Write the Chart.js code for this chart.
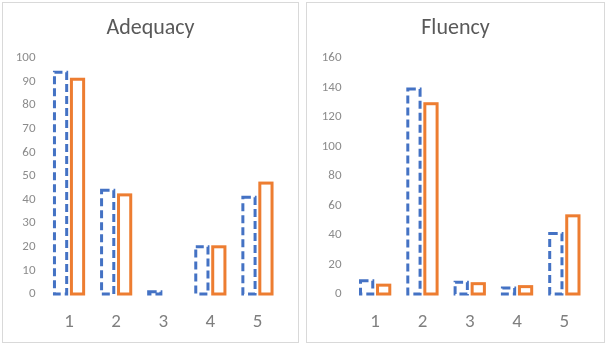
<!DOCTYPE html>
<html><head><meta charset="utf-8">
<script src="https://cdn.jsdelivr.net/npm/chart.js@4"></script>
<style>
html,body{margin:0;padding:0;background:#fff;width:606px;height:344px;overflow:hidden;font-family:Calibri,"Liberation Sans",Carlito,sans-serif}
.panel{position:absolute;border:1px solid #d9d9d9;background:#fff}
canvas{display:block}
</style></head><body>
<div class="panel" style="left:2px;top:2px;width:295px;height:339px"><canvas id="c1" width="295" height="339"></canvas></div>
<div class="panel" style="left:306px;top:2px;width:297px;height:339px"><canvas id="c2" width="297" height="339"></canvas></div>
<script>
const categories = ['1','2','3','4','5'];
const adequacyBlue = [94, 44, 1, 20, 41];
const adequacyOrange = [91, 42, 0, 20, 47];
const fluencyBlue = [9, 139, 8, 4, 41];
const fluencyOrange = [6, 129, 7, 5, 53];
const titles = ['Adequacy', 'Fluency'];
const yMaxes = [100, 160];
const ySteps = [10, 20];

const BLUE = '#4472c4', ORANGE = '#ed7d31';
const FONT = 'Calibri, Carlito, "Liberation Sans", sans-serif';

const outlinePlugin = {
  id: 'outlineBars',
  afterDatasetsDraw(chart) {
    const ctx = chart.ctx;
    chart.data.datasets.forEach((ds, i) => {
      const meta = chart.getDatasetMeta(i);
      ctx.save();
      ctx.lineWidth = 3;
      ctx.strokeStyle = ds.outline;
      ctx.setLineDash(ds.dash);
      ctx.lineJoin = 'miter';
      meta.data.forEach((el, j) => {
        if (!ds.data[j]) return;
        const p = el.getProps(['x','y','base','width'], true);
        ctx.strokeRect(p.x - p.width/2, p.y, p.width, p.base - p.y);
      });
      ctx.restore();
    });
  }
};

function makeChart(id, blue, orange, title, ymax, step, yw, right) {
  new Chart(document.getElementById(id), {
    type: 'bar',
    data: {
      labels: categories,
      datasets: [
        {data: blue, outline: BLUE, dash: [8,4], backgroundColor: 'rgba(0,0,0,0)', borderWidth: 0},
        {data: orange, outline: ORANGE, dash: [], backgroundColor: 'rgba(0,0,0,0)', borderWidth: 0}
      ]
    },
    options: {
      responsive: false,
      animation: false,
      events: [],
      categoryPercentage: 0.72,
      barPercentage: 0.72,
      layout: {padding: {top: 4, left: 0, right: 0, bottom: 0}},
      plugins: {
        legend: {display: false},
        tooltip: {enabled: false},
        title: {display: true, text: title, color: '#595959',
          font: {family: FONT, size: 22, weight: 'normal'},
          padding: {top: 8, bottom: 16.6}}
      },
      scales: {
        x: {
          grid: {display: false, drawTicks: false},
          border: {display: false},
          afterFit(s) { s.height = 48; },
          ticks: {color: '#7f7f7f', padding: 17,
            font: {family: FONT, size: 19}}
        },
        y: {
          min: 0, max: ymax,
          grid: {display: false, drawTicks: false},
          border: {display: false},
          afterFit(s) { s.width = yw; },
          ticks: {stepSize: step, color: '#8c8c8c', padding: 10,
            font: {family: FONT, size: 13}}
        },
        yRight: {
          type: 'linear', position: 'right', min: 0, max: ymax,
          grid: {display: false, drawTicks: false},
          border: {display: false},
          ticks: {display: false},
          afterFit(s) { s.width = right; }
        }
      }
    },
    plugins: [outlinePlugin]
  });
}
makeChart('c1', adequacyBlue, adequacyOrange, titles[0], yMaxes[0], ySteps[0], 42.5, 17);
makeChart('c2', fluencyBlue, fluencyOrange, titles[1], yMaxes[1], ySteps[1], 44.5, 16);
</script>
</body></html>
